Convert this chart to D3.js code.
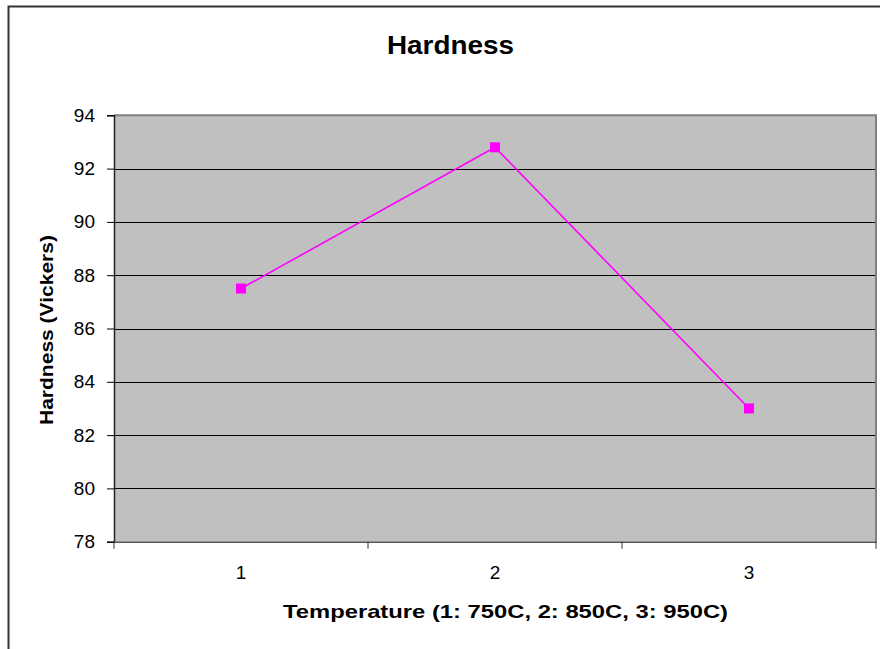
<!DOCTYPE html>
<html>
<head>
<meta charset="utf-8">
<script src="https://cdn.jsdelivr.net/npm/d3@7"></script>
<style>
  body { margin: 0; background: #fff; }
  svg { display: block; font-family: Arial, "Liberation Sans", sans-serif; }
</style>
</head>
<body>
<div id="chart"></div>
<script>
// data
const categories = ['1', '2', '3'];
const hardness = [87.5, 92.8, 83.0];
const yTicks = [78, 80, 82, 84, 86, 88, 90, 92, 94];

const width = 880;
const height = 649;

const svg = d3.select('#chart')
  .append('svg')
  .attr('width', width)
  .attr('height', height);

// outer chart frame (only top and left visible)
svg.append('path')
  .attr('d', `M8.5,${height} V6.5 H${width}`)
  .attr('fill', 'none')
  .attr('stroke', '#333')
  .attr('stroke-width', 2);

const plot = { left: 114, right: 876, top: 115.3, bottom: 541.7 };

const xScale = d3.scaleBand()
  .domain(categories)
  .range([plot.left, plot.right])
  .paddingInner(0)
  .paddingOuter(0);

const yScale = d3.scaleLinear()
  .domain([78, 94])
  .range([plot.bottom, plot.top]);

// plot background
svg.append('rect')
  .attr('x', plot.left)
  .attr('y', plot.top)
  .attr('width', plot.right - plot.left)
  .attr('height', plot.bottom - plot.top)
  .attr('fill', '#c0c0c0');

// gridlines
svg.append('g')
  .attr('class', 'gridlines')
  .selectAll('line')
  .data(yTicks.filter(d => d > 78 && d < 94))
  .join('line')
  .attr('x1', plot.left)
  .attr('x2', plot.right)
  .attr('y1', d => Math.round(yScale(d)) + 0.5)
  .attr('y2', d => Math.round(yScale(d)) + 0.5)
  .attr('stroke', '#000')
  .attr('stroke-width', 1.2);

// plot border top / right
svg.append('path')
  .attr('d', `M${plot.left},${plot.top} H${plot.right} V${plot.bottom}`)
  .attr('fill', 'none')
  .attr('stroke', '#808080')
  .attr('stroke-width', 2);

// y axis
const yAxis = d3.axisLeft(yScale)
  .tickValues(yTicks)
  .tickSize(7)
  .tickPadding(12)
  .tickFormat(d3.format('d'));

const gy = svg.append('g')
  .attr('transform', `translate(${plot.left}, 0)`)
  .call(yAxis);
gy.select('.domain').attr('stroke', '#222').attr('stroke-width', 1.5);
gy.selectAll('.tick line').attr('stroke', '#000');
gy.selectAll('.tick text')
  .attr('font-size', 19)
  .attr('fill', '#000')
  .attr('font-family', 'Arial, "Liberation Sans", sans-serif');

// x axis: ticks on category boundaries
const xAxis = d3.axisBottom(xScale)
  .tickSize(0)
  .tickPadding(24);

const gx = svg.append('g')
  .attr('transform', `translate(0, ${plot.bottom})`)
  .call(xAxis);
gx.select('.domain').attr('stroke', '#555').attr('stroke-width', 1.5);
gx.selectAll('.tick text')
  .attr('font-size', 19)
  .attr('fill', '#000')
  .attr('font-family', 'Arial, "Liberation Sans", sans-serif');

const bounds = categories.map(c => xScale(c)).concat([xScale.range()[1]]);
gx.selectAll('line.boundary')
  .data(bounds)
  .join('line')
  .attr('class', 'boundary')
  .attr('x1', d => d)
  .attr('x2', d => d)
  .attr('y1', 0)
  .attr('y2', 7)
  .attr('stroke', '#333');

// series line
const cx = (d, i) => xScale(categories[i]) + xScale.bandwidth() / 2;

svg.append('path')
  .datum(hardness)
  .attr('fill', 'none')
  .attr('stroke', '#ff00ff')
  .attr('stroke-width', 1.6)
  .attr('d', d3.line().x(cx).y(d => yScale(d)));

const size = 10;
svg.append('g')
  .selectAll('rect')
  .data(hardness)
  .join('rect')
  .attr('x', (d, i) => cx(d, i) - size / 2)
  .attr('y', d => yScale(d) - size / 2)
  .attr('width', size)
  .attr('height', size)
  .attr('fill', '#ff00ff');

// title and axis labels
svg.append('text')
  .attr('x', 450.5)
  .attr('y', 54)
  .attr('text-anchor', 'middle')
  .attr('font-size', 25)
  .attr('font-weight', 'bold')
  .attr('textLength', 127)
  .attr('lengthAdjust', 'spacingAndGlyphs')
  .text('Hardness');

svg.append('text')
  .attr('x', 505.5)
  .attr('y', 618)
  .attr('text-anchor', 'middle')
  .attr('font-size', 19)
  .attr('font-weight', 'bold')
  .attr('textLength', 445)
  .attr('lengthAdjust', 'spacingAndGlyphs')
  .text('Temperature (1: 750C, 2: 850C, 3: 950C)');

svg.append('text')
  .attr('transform', 'translate(53, 330) rotate(-90)')
  .attr('text-anchor', 'middle')
  .attr('font-size', 19)
  .attr('font-weight', 'bold')
  .attr('textLength', 190)
  .attr('lengthAdjust', 'spacingAndGlyphs')
  .text('Hardness (Vickers)');
</script>
</body>
</html>
